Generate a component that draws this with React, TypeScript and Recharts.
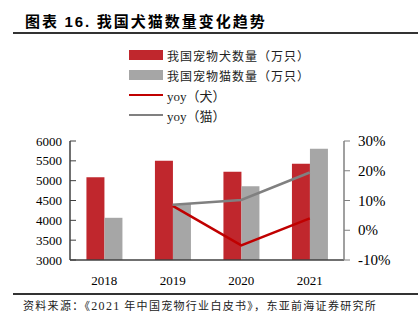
import React from 'react';
import { ComposedChart, Bar, Line, XAxis, YAxis } from 'recharts';

const years = ['2018', '2019', '2020', '2021'];
const dogCount = [5085, 5503, 5222, 5429];
const catCount = [4064, 4412, 4862, 5806];
const dogYoy = [null, 8.2, -5.1, 4.0];
const catYoy = [null, 8.6, 10.2, 19.4];
const leftTicks = [3000, 3500, 4000, 4500, 5000, 5500, 6000];
const rightTicks = [-10, 0, 10, 20, 30];

const RED = '#C0272D';
const GREY = '#A6A6A6';
const RED_LINE = '#C00000';
const GREY_LINE = '#808080';
const CJK = '"Noto Sans CJK SC", sans-serif';
const SERIF = '"Liberation Serif", serif';

const data = years.map((y, i) => ({
  year: y,
  dog: dogCount[i],
  cat: catCount[i],
  dogYoy: dogYoy[i],
  catYoy: catYoy[i],
}));

const legendItems = [
  { label: '我国宠物犬数量（万只）', color: RED, kind: 'bar' },
  { label: '我国宠物猫数量（万只）', color: GREY, kind: 'bar' },
  { label: 'yoy（犬）', color: RED_LINE, kind: 'line' },
  { label: 'yoy（猫）', color: GREY_LINE, kind: 'line' },
];

// left axis ticks point inward (to the right)
const LeftTick = ({ x, y, payload }: any) => (
  <g>
    <line x1={x + 8} x2={x + 14} y1={y} y2={y} stroke="#404040" strokeWidth={1} />
    <text x={x} y={y} dy={4.5} textAnchor="end" fontSize={13} fontFamily={SERIF} fill="#000">
      {payload.value}
    </text>
  </g>
);

// right axis ticks point inward (to the left)
const RightTick = ({ x, y, payload }: any) => (
  <g>
    <line x1={x - 14} x2={x - 8} y1={y} y2={y} stroke="#808080" strokeWidth={1} />
    <text x={x} y={y} dy={5} textAnchor="start" fontSize={15} fontFamily={SERIF} fill="#000">
      {payload.value}%
    </text>
  </g>
);

export default function App() {
  return (
    <div
      style={{
        position: 'absolute',
        left: 0,
        top: 0,
        width: 418,
        height: 322,
        background: '#fff',
        overflow: 'hidden',
      }}
    >
      <div
        style={{
          position: 'absolute',
          left: 25,
          top: 11,
          fontFamily: CJK,
          fontWeight: 700,
          fontSize: 15,
          lineHeight: '20px',
          color: '#000',
          letterSpacing: 2,
        }}
      >
        图表 <span style={{ fontFamily: '"Liberation Sans", sans-serif' }}>16.</span> 我国犬猫数量变化趋势
      </div>
      <div style={{ position: 'absolute', left: 13, top: 32, width: 405, height: 2, background: '#333' }} />

      {legendItems.map((it, i) => (
        <div
          key={it.label}
          style={{ position: 'absolute', left: 129, top: 55 + i * 20 - 10, height: 20, display: 'flex', alignItems: 'center' }}
        >
          {it.kind === 'bar' ? (
            <div style={{ width: 34, height: 10, background: it.color }} />
          ) : (
            <div style={{ width: 34, height: 2, background: it.color }} />
          )}
          <span
            style={{
              marginLeft: 4,
              fontFamily: it.kind === 'bar' ? CJK : `${SERIF}, ${CJK}`,
              fontSize: it.kind === 'bar' ? 12 : 13,
              color: '#222',
              letterSpacing: it.kind === 'bar' ? 1 : 0,
            }}
          >
            {it.label}
          </span>
        </div>
      ))}

      <div style={{ position: 'absolute', left: 0, top: 0 }}>
        <ComposedChart
          width={418}
          height={292}
          data={data}
          margin={{ top: 141, left: 30, right: 24, bottom: 0 }}
          barCategoryGap="24%"
          barGap={0}
        >
          <XAxis
            dataKey="year"
            height={32}
            tickLine={false}
            axisLine={{ stroke: '#404040', strokeWidth: 1.5 }}
            tick={{ fontSize: 13, fontFamily: SERIF, fill: '#000' }}
            tickMargin={10}
          />
          <YAxis
            yAxisId="left"
            width={40}
            domain={[3000, 6000]}
            ticks={leftTicks}
            interval={0}
            tickSize={0}
            tickMargin={8}
            tickLine={false}
            axisLine={{ stroke: '#404040', strokeWidth: 1.5 }}
            tick={<LeftTick />}
            allowDataOverflow
          />
          <YAxis
            yAxisId="right"
            orientation="right"
            width={50}
            domain={[-10, 30]}
            ticks={rightTicks}
            interval={0}
            tickSize={0}
            tickMargin={14}
            tickLine={false}
            axisLine={{ stroke: '#808080', strokeWidth: 1.5 }}
            tick={<RightTick />}
          />
          <Bar yAxisId="left" dataKey="dog" fill={RED} isAnimationActive={false} />
          <Bar yAxisId="left" dataKey="cat" fill={GREY} isAnimationActive={false} />
          <Line
            yAxisId="right"
            dataKey="dogYoy"
            stroke={RED_LINE}
            strokeWidth={2.5}
            dot={false}
            isAnimationActive={false}
          />
          <Line
            yAxisId="right"
            dataKey="catYoy"
            stroke={GREY_LINE}
            strokeWidth={2.5}
            dot={false}
            isAnimationActive={false}
          />
        </ComposedChart>
      </div>

      <div style={{ position: 'absolute', left: 13, top: 293, width: 405, height: 1.5, background: '#333' }} />
      <div
        style={{
          position: 'absolute',
          left: 23,
          top: 297,
          fontFamily: CJK,
          fontSize: 11,
          lineHeight: '16px',
          color: '#222',
          letterSpacing: 1.3,
          whiteSpace: 'nowrap',
        }}
      >
        资料来源：《<span style={{ fontFamily: SERIF, fontSize: 12 }}>2021</span> 年中国宠物行业白皮书》，东亚前海证券研究所
      </div>
    </div>
  );
}
